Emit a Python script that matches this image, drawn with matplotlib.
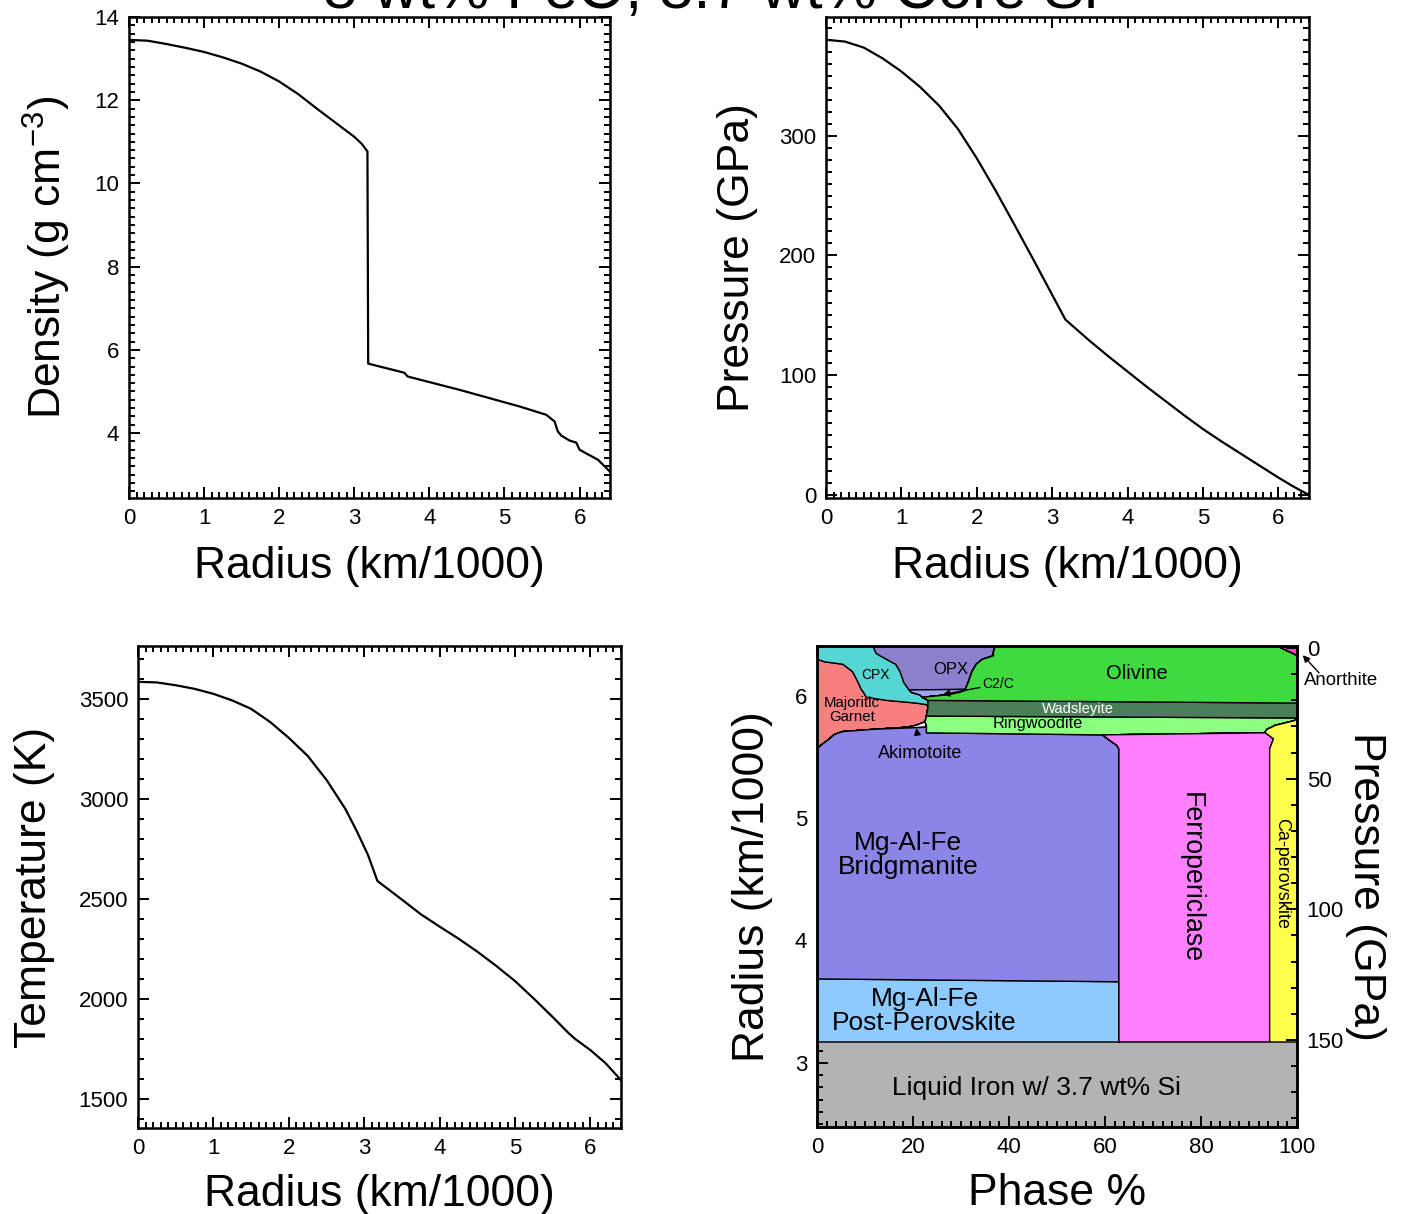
import matplotlib
matplotlib.use('Agg')
import matplotlib.pyplot as plt
from matplotlib.ticker import MultipleLocator

plt.rcParams['font.family'] = ['Liberation Sans', 'DejaVu Sans']
plt.rcParams['mathtext.fontset'] = 'custom'
plt.rcParams['mathtext.rm'] = 'Liberation Sans'
plt.rcParams['mathtext.it'] = 'Liberation Sans:italic'
plt.rcParams['mathtext.bf'] = 'Liberation Sans:bold'

TITLE = "8 wt% FeO, 3.7 wt% Core Si"
PLANET_R = 6.405
CORE_R = 3.175

# ---------------- radial profiles (radius in km/1000) ----------------
density_r = [0.0, 0.25, 0.5, 0.75, 1.0, 1.25, 1.5, 1.75, 2.0, 2.25, 2.5, 2.75, 3.0, 3.1, 3.175,
             3.185, 3.667, 3.71, 4.4, 5.0, 5.2, 5.556, 5.667, 5.71, 5.756, 5.867, 5.956, 6.0,
             6.09, 6.244, 6.356, 6.405]
density = [13.45, 13.43, 13.35, 13.26, 13.16, 13.03, 12.88, 12.69, 12.45, 12.15, 11.80, 11.46,
           11.12, 10.95, 10.77,
           5.67, 5.45, 5.36, 5.04, 4.74, 4.64, 4.44, 4.28, 4.04, 3.94, 3.82, 3.77, 3.60,
           3.51, 3.36, 3.16, 3.07]

pressure_r = [0.0, 0.25, 0.5, 0.75, 1.0, 1.25, 1.5, 1.75, 2.0, 2.25, 2.5, 2.75, 3.0, 3.175,
              3.5, 3.75, 4.0, 4.25, 4.5, 4.75, 5.0, 5.25, 5.5, 5.75, 6.0, 6.2, 6.405]
pressure = [380.0, 378.5, 373.5, 364.5, 353.5, 340.5, 325.0, 305.5, 281.0, 254.0, 225.5, 196.5,
            167.0, 146.4,
            128.5, 115.5, 103.0, 90.5, 78.5, 66.5, 55.0, 44.5, 34.5, 24.5, 14.5, 7.0, 0.0]

temp_r = [0.0, 0.25, 0.5, 0.75, 1.0, 1.25, 1.5, 1.75, 2.0, 2.25, 2.5, 2.75, 2.9, 3.05, 3.175,
          3.5, 3.75, 4.0, 4.25, 4.5, 4.75, 5.0, 5.25, 5.5, 5.71, 5.8, 6.0, 6.2, 6.405]
temperature = [3585, 3582, 3568, 3550, 3525, 3492, 3450, 3385, 3305, 3215, 3095, 2950, 2840,
               2720, 2590,
               2497, 2424, 2362, 2302, 2237, 2166, 2090, 2002, 1910, 1830, 1800, 1745, 1680, 1595]

# ---------------- mantle phase fractions (%) vs radius ----------------
phase_r = [6.405, 6.35, 6.33, 6.30, 6.28, 6.26, 6.20, 6.11, 6.055, 6.05, 6.03, 6.01, 5.99, 5.965,
           5.943, 5.93, 5.90, 5.837, 5.821, 5.80, 5.79, 5.76, 5.745, 5.73, 5.71, 5.70, 5.683,
           5.65, 5.60, 5.57, 3.69, 3.667, 3.175]
garnet = [0, 0, 0, 0, 1.5, 5.3, 7.3, 8.5, 9.1, 9.2, 9.6, 9.9, 10.2, 14.4, 20.5, 22.8, 23.0, 22.7,
          22.6, 22.5, 22.4, 20.5, 18.5, 12.3, 5.3, 4.5, 3.4, 2.5, 0.8, 0, 0, 0, 0]
cpx = [11.6, 12.2, 13.0, 14.4, 13.8, 11.0, 9.9, 9.5, 9.9, 9.9, 10.0, 11.4, 11.7, 8.7, 2.5, 0.2, 0,
       0, 0, 0, 0, 0, 0, 0, 0, 0, 0, 0, 0, 0, 0, 0, 0]
opx = [25.4, 24.4, 23.7, 20.0, 18.4, 16.8, 15.0, 13.4, 11.8, 0, 0, 0, 0, 0, 0, 0, 0,
       0, 0, 0, 0, 0, 0, 0, 0, 0, 0, 0, 0, 0, 0, 0, 0]
c2c = [0, 0, 0, 0, 0, 0, 0, 0, 0, 11.9, 10.0, 5.7, 0, 0, 0, 0, 0,
       0, 0, 0, 0, 0, 0, 0, 0, 0, 0, 0, 0, 0, 0, 0, 0]
akimotoite = [0, 0, 0, 0, 0, 0, 0, 0, 0, 0, 0, 0, 0, 0, 0, 0, 0,
              0, 0, 0, 0, 2.2, 4.2, 0, 0, 0, 0, 0, 0, 0, 0, 0, 0]
post_perovskite = [0, 0, 0, 0, 0, 0, 0, 0, 0, 0, 0, 0, 0, 0, 0, 0, 0,
                   0, 0, 0, 0, 0, 0, 0, 0, 0, 0, 0, 0, 0, 0, 62.8, 62.8]
bridgmanite = [0, 0, 0, 0, 0, 0, 0, 0, 0, 0, 0, 0, 0, 0, 0, 0, 0,
               0, 0, 0, 0, 0, 0, 10.4, 17.4, 18.2, 56.0, 58.0, 61.5, 62.8, 62.8, 0, 0]
ringwoodite = [0, 0, 0, 0, 0, 0, 0, 0, 0, 0, 0, 0, 0, 0, 0, 0, 0,
               0, 77.4, 76.9, 76.0, 72.6, 71.9, 71.0, 70.6, 70.6, 0, 0, 0, 0, 0, 0, 0]
wadsleyite = [0, 0, 0, 0, 0, 0, 0, 0, 0, 0, 0, 0, 0, 0, 77.0, 77.0, 77.0,
              77.3, 0, 0, 0, 0, 0, 0, 0, 0, 0, 0, 0, 0, 0, 0, 0]
olivine = [59.0, 62.4, 63.3, 65.6, 66.3, 66.9, 67.8, 68.6, 69.2, 69.0, 70.4, 73.0, 78.1, 76.9, 0, 0, 0,
           0, 0, 0, 0, 0, 0, 0, 0, 0, 0, 0, 0, 0, 0, 0, 0]
ferropericlase = [0, 0, 0, 0, 0, 0, 0, 0, 0, 0, 0, 0, 0, 0, 0, 0, 0,
                  0, 0, 0, 0, 0, 0, 0, 0, 0, 34.5, 34.5, 32.2, 31.4, 31.4, 31.4, 31.4]
ca_perovskite = [0, 0, 0, 0, 0, 0, 0, 0, 0, 0, 0, 0, 0, 0, 0, 0, 0,
                 0, 0, 0.6, 1.6, 4.7, 5.4, 6.3, 6.7, 6.7, 6.1, 5.0, 5.5, 5.8, 5.8, 5.8, 5.8]
anorthite = [4.0, 1.0, 0, 0, 0, 0, 0, 0, 0, 0, 0, 0, 0, 0, 0, 0, 0,
             0, 0, 0, 0, 0, 0, 0, 0, 0, 0, 0, 0, 0, 0, 0, 0]

core_r = [0.0, CORE_R]
core_fraction = [100.0, 100.0]

phase_stack = [
    (garnet, '#f77f7f'),
    (cpx, '#55d6d2'),
    (opx, '#8c80cc'),
    (c2c, '#a0a0f5'),
    (akimotoite, '#ffffff'),
    (post_perovskite, '#8ccaff'),
    (bridgmanite, '#8a85e6'),
    (ringwoodite, '#8cff80'),
    (wadsleyite, '#4a7f5a'),
    (olivine, '#40d940'),
    (ferropericlase, '#ff80ff'),
    (ca_perovskite, '#ffff4d'),
    (anorthite, '#ff40c0'),
]

W, H = 1406, 1214
fig = plt.figure(figsize=(W / 100, H / 100), dpi=100)


def add_axes(l, r, t, b):
    return fig.add_axes([l / W, 1 - b / H, (r - l) / W, (b - t) / H])


ax1 = add_axes(129, 610, 17, 498)
ax2 = add_axes(826, 1309, 17, 498)
ax3 = add_axes(138, 621, 646, 1128)
ax4 = add_axes(817, 1297, 646, 1127)

LBL = 32
TCK = 16


def style(ax, xmin, ymaj, ymin, left=True, right=True):
    for s in ax.spines.values():
        s.set_linewidth(1.8)
    ax.tick_params(which='both', direction='in', top=True, right=right, left=left,
                   labelsize=TCK, width=1.4, pad=7)
    ax.tick_params(which='major', length=8)
    ax.tick_params(which='minor', length=4.5)
    ax.xaxis.set_minor_locator(MultipleLocator(xmin))
    ax.yaxis.set_major_locator(MultipleLocator(ymaj))
    ax.yaxis.set_minor_locator(MultipleLocator(ymin))


# Density
ax1.plot(density_r, density, color='black', lw=1.6)
ax1.set_xlim(0, PLANET_R)
ax1.set_ylim(2.44, 14.0)
ax1.xaxis.set_major_locator(MultipleLocator(1))
style(ax1, 0.1, 2, 0.2)
ax1.set_xlabel('Radius (km/1000)', fontsize=LBL)
ax1.set_ylabel(r'Density (g cm$^{-3}$)', fontsize=LBL)
ax1.xaxis.set_label_coords(0.5, -0.0995)
ax1.yaxis.set_label_coords(-0.117, 0.5)

# Pressure
ax2.plot(pressure_r, pressure, color='black', lw=1.6)
ax2.set_xlim(0, PLANET_R)
ax2.set_ylim(-2.5, 399)
ax2.xaxis.set_major_locator(MultipleLocator(1))
style(ax2, 0.1, 100, 10)
ax2.set_xlabel('Radius (km/1000)', fontsize=LBL)
ax2.set_ylabel('Pressure (GPa)', fontsize=LBL)
ax2.xaxis.set_label_coords(0.5, -0.0995)
ax2.yaxis.set_label_coords(-0.141, 0.5)

# Temperature
ax3.plot(temp_r, temperature, color='black', lw=1.6)
ax3.set_xlim(0, PLANET_R)
ax3.set_ylim(1356, 3764)
ax3.xaxis.set_major_locator(MultipleLocator(1))
style(ax3, 0.1, 500, 100)
ax3.set_xlabel('Radius (km/1000)', fontsize=LBL)
ax3.set_ylabel('Temperature (K)', fontsize=LBL)
ax3.xaxis.set_label_coords(0.5, -0.0955)
ax3.yaxis.set_label_coords(-0.172, 0.5)

# Phase diagram
ax4.fill_betweenx(core_r, 0, core_fraction, facecolor='#b3b3b3', edgecolor='black', lw=1.0, zorder=1)
cum_prev = [0.0] * len(phase_r)
for vals, col in phase_stack:
    cum = [a + b for a, b in zip(cum_prev, vals)]
    ax4.fill_betweenx(phase_r, cum_prev, cum, facecolor=col, edgecolor='black', lw=1.0, zorder=2)
    cum_prev = cum

ax4.set_xlim(0, 100)
ax4.set_ylim(CORE_R * 0.78, PLANET_R)
ax4.xaxis.set_major_locator(MultipleLocator(20))
style(ax4, 2, 1, 0.1, right=False)
ax4.set_zorder(3)
ax4.set_xlabel('Phase %', fontsize=LBL)
ax4.set_ylabel('Radius (km/1000)', fontsize=LBL)
ax4.xaxis.set_label_coords(0.5, -0.0955)
ax4.yaxis.set_label_coords(-0.092, 0.5)

ax4r = ax4.twinx()
ax4r.set_ylim(183.3, -0.77)
ax4r.yaxis.set_major_locator(MultipleLocator(50))
ax4r.yaxis.set_minor_locator(MultipleLocator(10))
ax4r.tick_params(which='both', direction='in', right=True, left=False, labelsize=TCK, width=1.4, pad=7)
ax4r.tick_params(which='major', length=8)
ax4r.tick_params(which='minor', length=4.5)
for s in ax4r.spines.values():
    s.set_linewidth(1.8)
ax4r.set_ylabel('Pressure (GPa)', fontsize=LBL, rotation=270, va='bottom')
ax4r.yaxis.set_label_coords(1.10, 0.5)

tk = dict(ha='center', va='center', zorder=5)
ax4.text(12.1, 6.171, 'CPX', fontsize=10, **tk)
ax4.text(27.8, 6.211, 'OPX', fontsize=12, **tk)
ax4.text(66.7, 6.179, 'Olivine', fontsize=14.5, **tk)
ax4.text(54.4, 5.894, 'Wadsleyite', fontsize=10.6, color='white', **tk)
ax4.text(46.0, 5.772, 'Ringwoodite', fontsize=11.8, **tk)
ax4.text(7.3, 5.886, 'Majoritic\nGarnet', fontsize=10.8, linespacing=1.0, **tk)
ax4.text(19.0, 4.70, 'Mg-Al-Fe\nBridgmanite', fontsize=19, linespacing=1.0, **tk)
ax4.text(22.4, 3.42, 'Mg-Al-Fe\nPost-Perovskite', fontsize=19, linespacing=1.0, **tk)
ax4.text(45.8, 2.797, 'Liquid Iron w/ 3.7 wt% Si', fontsize=19, **tk)
ax4.text(77.8, 4.512, 'Ferropericlase', fontsize=19.3, rotation=270, **tk)
ax4.text(96.7, 4.545, 'Ca-perovskite', fontsize=13, rotation=270, **tk)

arrow = dict(arrowstyle='-|>', color='black', lw=1.0, mutation_scale=10, shrinkA=0, shrinkB=0)
ax4.annotate('C2/C', xy=(26.2, 6.008), xytext=(34.5, 6.095), fontsize=10,
             ha='left', va='center', arrowprops=arrow, zorder=6)
ax4.annotate('Akimotoite', xy=(20.7, 5.735), xytext=(21.5, 5.528), fontsize=13,
             ha='center', va='center', arrowprops=dict(arrow, shrinkA=8), zorder=6)
# Anorthite label with its own arrow
ax4.text(101.5, 6.122, 'Anorthite', fontsize=13.4, ha='left', va='center', zorder=6, clip_on=False)
ax4.annotate('', xy=(101.2, 6.33), xytext=(104.6, 6.185), arrowprops=arrow, zorder=6,
             annotation_clip=False)

fig.text(710 / W, 1 - 8 / H, TITLE, ha='center', va='baseline', fontsize=44)

fig.savefig('out.png', dpi=100)
